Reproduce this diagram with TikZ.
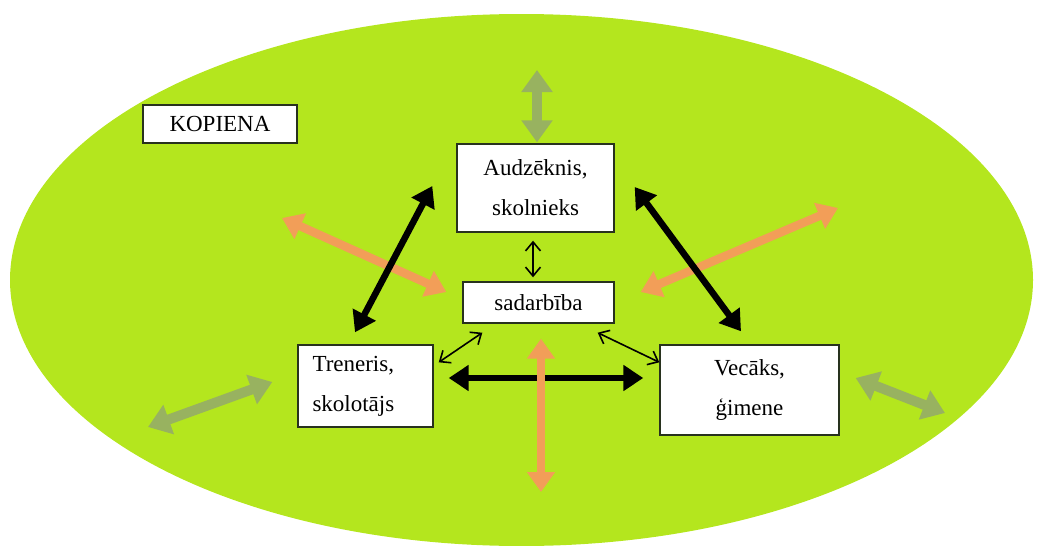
\documentclass[tikz,border=0pt]{standalone}
\usepackage{fontspec}
\setmainfont{Liberation Serif}
\usetikzlibrary{arrows.meta}
\definecolor{lime}{RGB}{180,230,30}
\definecolor{orng}{RGB}{242,158,88}
\definecolor{sage}{RGB}{152,178,96}
\definecolor{boxline}{RGB}{40,50,30}
\tikzset{
  box/.style={draw=boxline, line width=1.4pt, fill=white, inner sep=0pt,
    font=\fontsize{23}{40}\selectfont, align=center},
  blk/.style={line width=6.5pt, black, {Triangle[length=20pt,width=25pt]}-{Triangle[length=20pt,width=25pt]}},
  thinar/.style={line width=1.6pt, black, {Straight Barb[length=9pt,width=15pt]}-{Straight Barb[length=9pt,width=15pt]}},
  org/.style={line width=8.5pt, orng, {Triangle[length=20pt,width=27pt]}-{Triangle[length=20pt,width=27pt]}},
  grn/.style={line width=10pt, sage, {Triangle[length=22pt,width=30pt]}-{Triangle[length=22pt,width=30pt]}}
}
\begin{document}
\begin{tikzpicture}[x=1pt,y=-1pt]
\useasboundingbox (0,0) rectangle (1039,546);
\fill[lime] (521.5,280) ellipse [x radius=511.5, y radius=266];

\node[box, minimum width=154pt, minimum height=38pt] (kop) at (220,124) {KOPIENA};
\node[box, minimum width=157pt, minimum height=88pt] (aud) at (535.5,188) {Audzēknis,\\skolnieks};
\node[box, minimum width=151pt, minimum height=41pt] (sad) at (538.5,302.5) {sadarbība};
\node[box, minimum width=135pt, minimum height=82pt, text width=106pt, align=left] (tren) at (365.5,386) {Treneris,\\skolotājs};
\node[box, minimum width=179pt, minimum height=90pt] (vec) at (749.5,390) {Vecāks,\\ģimene};

\coordinate (oL) at (282,218);
\coordinate (oR) at (838,208);
\coordinate (oB) at (541,492);
\coordinate (gT) at (537,70);
\coordinate (gL) at (148,427);
\coordinate (gR) at (945,413);

% green-grey outer arrows
\draw[grn] ([shift={(1.5,-1)}]aud.north) -- (gT);
\draw[grn] (gL) -- ([shift={(-25,-4)}]tren.west);
\draw[grn] ([shift={(16,-12)}]vec.east) -- (gR);

% orange diagonal arrows
\draw[org] (oL) -- ([shift={(-16,-10.5)}]sad.west);
\draw[org] ([shift={(26,-10.5)}]sad.east) -- (oR);

% black thick arrows
\draw[blk] ([shift={(-24,-2)}]aud.west) -- ([shift={(-10.5,-12)}]tren.north);
\draw[blk] ([shift={(20,-1)}]aud.east) -- ([shift={(-8.5,-13)}]vec.north);
\draw[blk] ([shift={(15,-8)}]tren.east) -- ([shift={(-16,-12)}]vec.west);

% orange vertical
\draw[org] ([shift={(2.5,15)}]sad.south) -- (oB);

% thin black arrows
\draw[thinar] ([shift={(-2.5,8)}]aud.south) -- ([shift={(-5.5,-4)}]sad.north);
\draw[thinar] ([shift={(5,18)}]tren.north east) -- ([shift={(20,9)}]sad.south west);
\draw[thinar] ([shift={(-17,9)}]sad.south east) -- ([shift={(0,18)}]vec.north west);
\end{tikzpicture}
\end{document}
